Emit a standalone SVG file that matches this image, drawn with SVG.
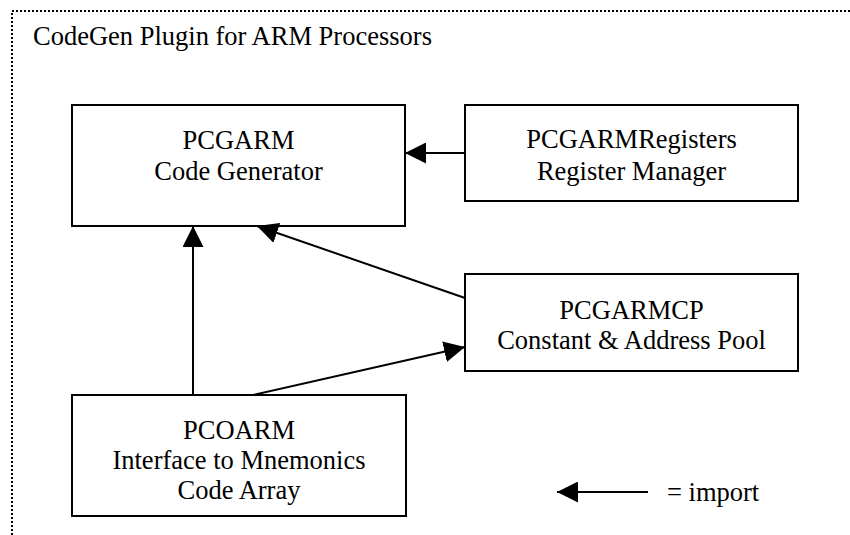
<svg xmlns="http://www.w3.org/2000/svg" width="850" height="535" viewBox="0 0 850 535">
  <style>
    .frame { fill: none; stroke: #000; stroke-width: 2; stroke-dasharray: 2 2; }
    .box { fill: #fff; stroke: #000; stroke-width: 2; }
    .lbl { font-family: 'Times New Roman', 'Liberation Serif', Times, serif; font-size: 26.5px; fill: #000; }
    .mid { text-anchor: middle; }
    .edge { fill: none; stroke: #000; stroke-width: 2; marker-end: url(#head); }
  </style>
  <defs>
    <marker id="head" viewBox="0 0 21 21" refX="21" refY="10.5" markerWidth="21" markerHeight="21" markerUnits="userSpaceOnUse" orient="auto">
      <path d="M0,0 L21,10.5 L0,21 z" fill="#000"/>
    </marker>
  </defs>

  <rect width="850" height="535" fill="#fff"/>

  <!-- package boundary -->
  <g id="package">
    <rect class="frame" x="12" y="11" width="850" height="540"/>
    <text class="lbl" x="33" y="45">CodeGen Plugin for ARM Processors</text>
  </g>

  <g id="pcgarm">
    <rect class="box" x="72" y="105" width="333" height="121"/>
    <text class="lbl mid" x="238.5" y="149">PCGARM</text>
    <text class="lbl mid" x="238.5" y="180">Code Generator</text>
  </g>

  <g id="pcgarmregisters">
    <rect class="box" x="465" y="105" width="333" height="96"/>
    <text class="lbl mid" x="631.5" y="148">PCGARMRegisters</text>
    <text class="lbl mid" x="631.5" y="180">Register Manager</text>
  </g>

  <g id="pcgarmcp">
    <rect class="box" x="465" y="274" width="333" height="97"/>
    <text class="lbl mid" x="631.5" y="319">PCGARMCP</text>
    <text class="lbl mid" x="631.5" y="349">Constant &amp; Address Pool</text>
  </g>

  <g id="pcoarm">
    <rect class="box" x="72" y="395" width="334" height="121"/>
    <text class="lbl mid" x="239" y="439">PCOARM</text>
    <text class="lbl mid" x="239" y="469">Interface to Mnemonics</text>
    <text class="lbl mid" x="239" y="499">Code Array</text>
  </g>

  <!-- import relations -->
  <g id="connectors">
    <line class="edge" x1="465" y1="153" x2="405" y2="153"/>
    <line class="edge" x1="465" y1="298" x2="257" y2="226"/>
    <line class="edge" x1="193" y1="395" x2="193" y2="226"/>
    <line class="edge" x1="253" y1="395" x2="465" y2="347"/>
  </g>

  <g id="legend">
    <line class="edge" x1="648" y1="492" x2="557" y2="492"/>
    <text class="lbl" x="667" y="501">= import</text>
  </g>
</svg>
